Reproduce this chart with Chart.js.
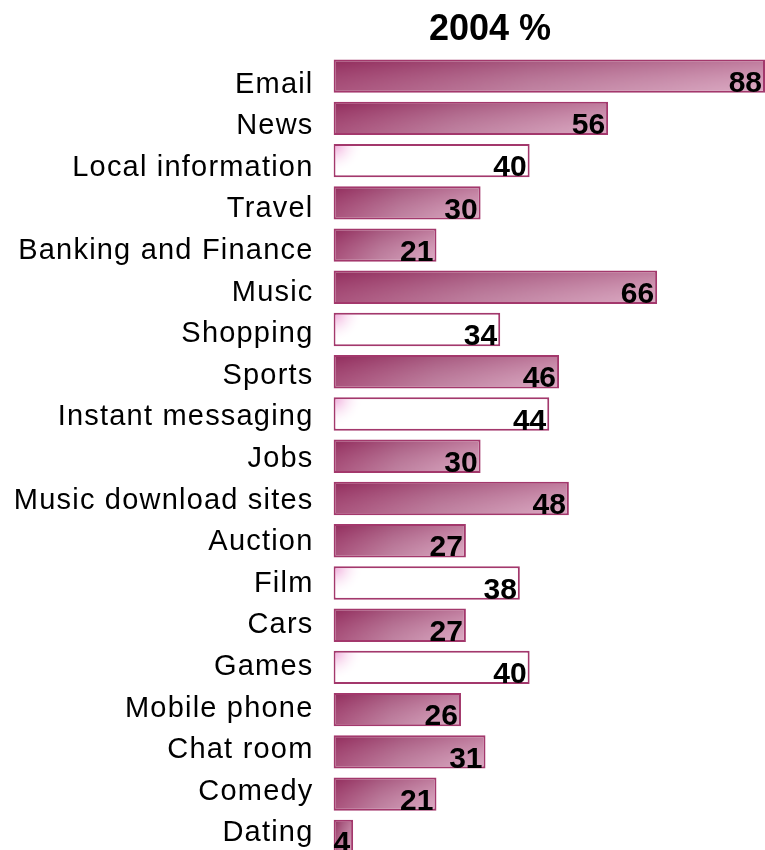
<!DOCTYPE html>
<html>
<head>
<meta charset="utf-8">
<title>2004 %</title>
<script src="https://cdn.jsdelivr.net/npm/chart.js@4.4.1/dist/chart.umd.min.js"></script>
<style>
  html, body { margin: 0; padding: 0; background: #fff; overflow: hidden; }
  #chart { display: block; }
</style>
</head>
<body>
<canvas id="chart" width="765" height="860"></canvas>
<script>
// categories and their 2004 percentages
var categories = ['Email', 'News', 'Local information', 'Travel', 'Banking and Finance',
  'Music', 'Shopping', 'Sports', 'Instant messaging', 'Jobs', 'Music download sites',
  'Auction', 'Film', 'Cars', 'Games', 'Mobile phone', 'Chat room', 'Comedy', 'Dating'];
var values = [88, 56, 40, 30, 21, 66, 34, 46, 44, 30, 48, 27, 38, 27, 40, 26, 31, 21, 4];
var chartTitle = '2004 %';

// rows drawn as white boxes instead of the shaded fill
var hollow = ['Local information', 'Shopping', 'Instant messaging', 'Film', 'Games'];

var BAR_PCT = 0.79;

function barFill(c) {
  var chart = c.chart;
  var xs = chart.scales.x, ys = chart.scales.y;
  if (c.type !== 'data' || !xs || !ys) return '#b36e91';
  var i = c.dataIndex;
  var x0 = xs.getPixelForValue(0);
  var x1 = xs.getPixelForValue(values[i]);
  var h = Math.abs(ys.getPixelForValue(1) - ys.getPixelForValue(0)) * BAR_PCT;
  var top = ys.getPixelForValue(i) - h / 2;
  if (![x0, x1, h, top].every(isFinite) || x1 - x0 < 1 || h < 1) return '#b36e91';
  var w = Math.round(x1 - x0);
  var hh = Math.round(h);

  var off = document.createElement('canvas');
  off.width = w; off.height = hh;
  var o = off.getContext('2d');
  if (hollow.indexOf(categories[i]) >= 0) {
    o.fillStyle = '#fff';
    o.fillRect(0, 0, w, hh);
    var glow = o.createRadialGradient(0, 0, 0, 0, 0, 30);
    glow.addColorStop(0, 'rgba(236,150,210,0.9)');
    glow.addColorStop(1, 'rgba(255,255,255,0)');
    o.fillStyle = glow;
    o.fillRect(0, 0, w, hh);
  } else {
    var g = o.createLinearGradient(0, 0, w, 0);
    g.addColorStop(0, '#973262');
    g.addColorStop(0.45, '#b26c8f');
    g.addColorStop(1, '#d49db9');
    o.fillStyle = g;
    o.fillRect(0, 0, w, hh);
    // darker along the top, lighter towards the bottom
    var v = o.createLinearGradient(0, 0, 0, hh);
    v.addColorStop(0, 'rgba(130,25,75,0.28)');
    v.addColorStop(1, 'rgba(255,235,245,0.18)');
    o.fillStyle = v;
    o.fillRect(0, 0, w, hh);
  }
  var pat = chart.ctx.createPattern(off, 'no-repeat');
  pat.setTransform(new DOMMatrix().translate(x0, top));
  return pat;
}

// category names are set a little wide
var labelSpacing = {
  id: 'labelSpacing',
  beforeDraw: function(chart) { chart.ctx.letterSpacing = '1.2px'; },
  beforeDatasetsDraw: function(chart) { chart.ctx.letterSpacing = '0px'; }
};

// value printed at the right end of each bar
var valueLabels = {
  id: 'valueLabels',
  afterDatasetsDraw: function(chart) {
    var ctx = chart.ctx;
    var meta = chart.getDatasetMeta(0);
    ctx.save();
    ctx.letterSpacing = '0px';
    ctx.font = 'bold 30px "Liberation Sans", Arial, sans-serif';
    ctx.fillStyle = '#000';
    ctx.textAlign = 'right';
    ctx.textBaseline = 'alphabetic';
    meta.data.forEach(function(bar, i) {
      ctx.fillText(String(values[i]), bar.x - 3, bar.y + bar.height / 2 - 1);
    });
    ctx.restore();
  }
};

// heading sits over the bars, not the whole canvas
var heading = {
  id: 'heading',
  afterDraw: function(chart) {
    var ctx = chart.ctx;
    ctx.save();
    ctx.letterSpacing = '0px';
    ctx.font = 'bold 36px "Liberation Sans", Arial, sans-serif';
    ctx.fillStyle = '#000';
    ctx.textAlign = 'center';
    ctx.textBaseline = 'alphabetic';
    ctx.fillText(chartTitle, 490, 40);
    ctx.restore();
  }
};

function noPadding(scale) {
  scale.paddingTop = 0;
  scale.paddingBottom = 0;
}

new Chart(document.getElementById('chart').getContext('2d'), {
  type: 'bar',
  data: {
    labels: categories,
    datasets: [{
      label: chartTitle,
      data: values,
      backgroundColor: barFill,
      borderColor: '#a3386c',
      borderWidth: 2,
      borderSkipped: false,
      barPercentage: BAR_PCT,
      categoryPercentage: 1
    }]
  },
  options: {
    indexAxis: 'y',
    responsive: false,
    devicePixelRatio: 1,
    animation: false,
    layout: { padding: { top: 55, bottom: 2.5, left: 0, right: 0 } },
    plugins: {
      legend: { display: false },
      title: { display: false },
      tooltip: { enabled: false }
    },
    scales: {
      x: { display: false, min: 0, max: 88 },
      // bars sit on this one
      y: { display: false, afterFit: noPadding },
      // names run on a slightly tighter pitch than the bars
      names: {
        type: 'linear',
        position: 'left',
        reverse: true,
        offset: false,
        bounds: 'data',
        grace: 0,
        min: -0.71,
        max: 18.58,
        grid: { display: false, drawTicks: false, offset: false },
        border: { display: false },
        afterBuildTicks: function(scale) {
          scale.ticks = categories.map(function(c, i) { return { value: i }; });
        },
        ticks: {
          autoSkip: false,
          color: '#000',
          padding: 20,
          font: { family: '"Liberation Sans", Arial, sans-serif', size: 29 },
          callback: function(v) { return categories[v]; }
        },
        afterFit: function(scale) {
          scale.width = 333.5;
          noPadding(scale);
        }
      }
    }
  },
  plugins: [labelSpacing, valueLabels, heading]
});
</script>
</body>
</html>
